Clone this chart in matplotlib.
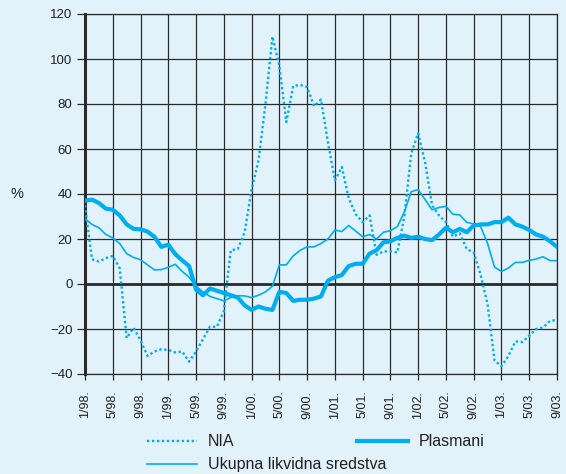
import matplotlib
matplotlib.use("Agg")
import matplotlib.pyplot as plt
from matplotlib.lines import Line2D

# month labels on the x axis (every 4th month, 1/98 .. 9/03)
tick_labels = ['1/98.', '5/98.', '9/98.', '1/99.', '5/99.', '9/99.', '1/00.', '5/00.', '9/00.',
               '1/01.', '5/01.', '9/01.', '1/02.', '5/02.', '9/02.', '1/03.', '5/03.', '9/03.']

# monthly values, %, 1/98 .. 9/03
nia = [35, 11, 10, 11.5, 12.5, 7, -24, -19.5, -25, -32,
       -30, -29, -29.3, -30.4, -30, -34.5, -30, -24.5, -19, -19,
       -12, 15, 15.5, 23, 42, 55, 80, 110, 97, 72,
       88, 88.5, 87.5, 79, 82, 63, 46, 52, 38, 31,
       27.5, 30.5, 13, 14.5, 14.5, 14, 30, 58, 67, 54,
       35, 30.5, 27.5, 21, 22.5, 15.5, 14, 4, -9, -34,
       -36.5, -32, -25.5, -25.8, -23, -20, -19.3, -16.4, -16]

plasmani = [37, 37.5, 36, 33.5, 33, 30.5, 26.5, 24.5, 24.3, 23.3,
            21, 16.5, 17.5, 13.3, 10.5, 8, -2.5, -5, -2, -3,
            -4, -5, -6, -9.5, -11.5, -10, -11, -11.5, -3.5, -4,
            -7.5, -7, -7, -6.5, -5.5, 1.5, 3, 4, 8, 9,
            9, 13.5, 15, 18.5, 19, 20.5, 21.5, 20.5, 21, 20,
            19.5, 22, 25, 23, 24.5, 23, 26, 26.5, 26.5, 27.5,
            27.5, 29.5, 26.5, 25.5, 24, 22, 21, 19, 16.5]

ukupna = [29, 26.5, 25, 22, 20.5, 18, 13.5, 11.8, 10.8, 8.5,
          6.3, 6.4, 7.4, 8.8, 5.6, 3, -1, -3.5, -5.5, -6.5,
          -7.5, -6, -5.2, -5.3, -6, -5, -3.5, -1, 8.5, 8.5,
          12.5, 15, 16.5, 16.5, 18, 20, 24, 23.3, 26, 23.5,
          21, 22, 20, 23, 23.7, 25.5, 32, 41, 42, 37.5,
          33, 34, 34.5, 31, 30.7, 27.4, 26.7, 25.5, 18, 7.5,
          5.6, 7.1, 9.6, 9.6, 10.5, 11.1, 12.1, 10.4, 10.4]

W, H = 566, 474
BG = '#e1f2fb'
BLUE = '#00aeef'
GRID = '#2b2b2b'


def fx(px):
  return px / W


def fy(py):
  return 1 - py / H


def legend_item(fig, x0, x1, y, label, **style):
  fig.add_artist(Line2D([fx(x0), fx(x1)], [fy(y), fy(y)],
                        transform=fig.transFigure, color=BLUE, **style))
  fig.text(fx(x1 + 11), fy(y), label, ha='left', va='center',
           fontsize=11.5, color='#231f20')


def main():
  plt.rcParams['font.family'] = ['Liberation Sans', 'DejaVu Sans']

  fig = plt.figure(figsize=(W / 100, H / 100), dpi=100, facecolor=BG)
  ax = fig.add_axes([fx(85), fy(374), (557 - 85) / W, (374 - 14) / H])
  ax.set_facecolor(BG)

  months = list(range(len(nia)))

  ax.plot(months, nia, color=BLUE, lw=1.7, dashes=(1, 1.1), dash_capstyle='butt', zorder=3)
  ax.plot(months, ukupna, color=BLUE, lw=1.2, zorder=3)
  ax.plot(months, plasmani, color=BLUE, lw=3.0, solid_joinstyle='round', zorder=4)

  ax.set_xlim(0, len(nia) - 1)
  ax.set_ylim(-40, 120)
  ax.set_xticks(months[::4])
  ax.set_xticklabels(tick_labels, rotation=90, fontsize=9, color='#231f20')
  ax.set_yticks(range(-40, 121, 20))
  ax.tick_params(axis='y', length=6, width=0.9, color=GRID, pad=3, labelsize=9.5,
                 labelcolor='#231f20')
  ax.tick_params(axis='x', length=4, width=0.9, color=GRID, pad=8)

  ax.set_axisbelow(True)
  ax.grid(True, color=GRID, lw=0.9)
  ax.axhline(0, color=GRID, lw=2, zorder=2)
  for side in ['top', 'right', 'bottom']:
    ax.spines[side].set_color(GRID)
    ax.spines[side].set_linewidth(0.9)
  ax.spines['left'].set_color(GRID)
  ax.spines['left'].set_linewidth(2.2)

  fig.text(fx(17), fy(194), '%', ha='center', va='center', fontsize=10.5, color='#231f20')

  legend_item(fig, 147, 197, 441, 'NIA', lw=1.7, dashes=(1, 1.1), dash_capstyle='butt')
  legend_item(fig, 357, 408, 441, 'Plasmani', lw=3.0)
  legend_item(fig, 147, 197, 464, 'Ukupna likvidna sredstva', lw=1.2)

  fig.savefig('out.png', dpi=100, facecolor=BG)


if __name__ == "__main__":
  main()
